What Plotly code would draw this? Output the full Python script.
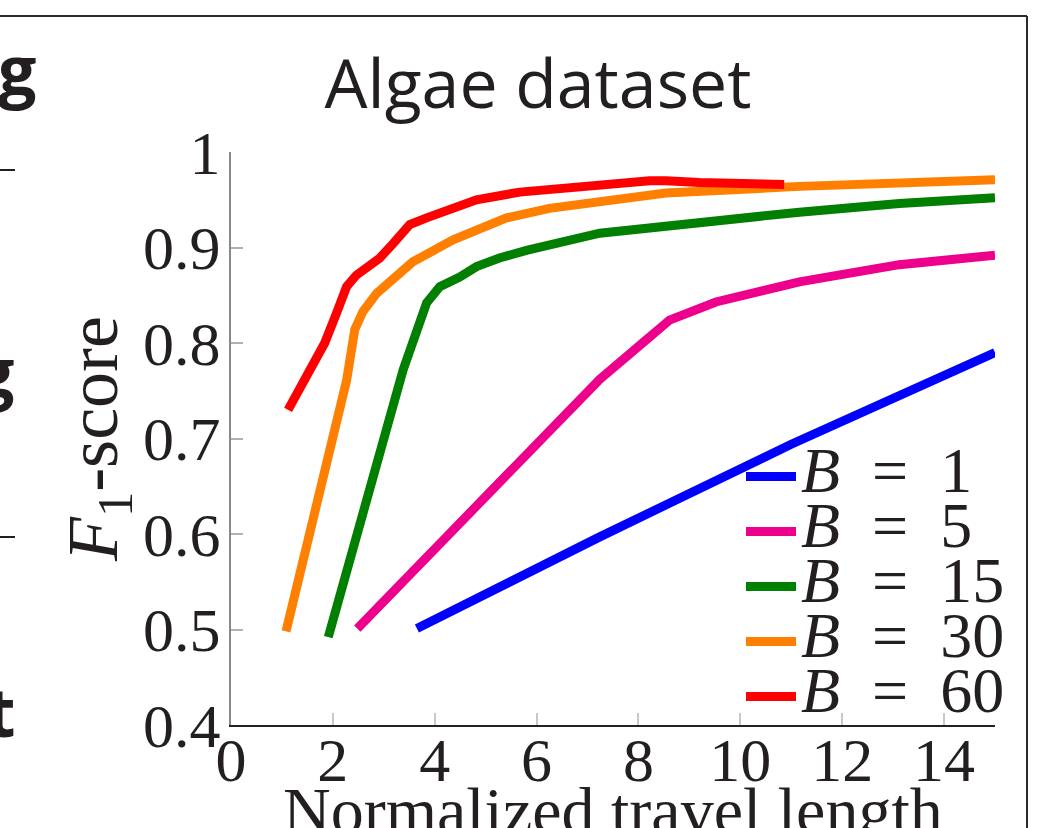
import plotly.graph_objects as go

# ---------------- data ----------------
b1_x = [3.65, 7.24, 11.0, 15.0]
b1_y = [0.501, 0.597, 0.694, 0.790]

b5_x = [2.48, 4.29, 5.86, 7.24, 8.08, 8.61, 9.52, 11.16, 13.12, 15.0]
b5_y = [0.501, 0.599, 0.687, 0.762, 0.800, 0.824, 0.843, 0.864, 0.882, 0.892]

b15_x = [1.91, 2.95, 3.38, 3.84, 4.10, 4.49, 4.82, 5.27, 5.80, 7.24, 9.20, 11.16, 13.12, 15.0]
b15_y = [0.492, 0.688, 0.772, 0.842, 0.859, 0.869, 0.880, 0.889, 0.897, 0.915, 0.927, 0.937, 0.946, 0.952]

b30_x = [1.08, 1.94, 2.27, 2.43, 2.59, 2.86, 3.31, 3.57, 4.36, 5.41, 6.25, 7.24, 8.54, 11.16, 13.12, 15.0]
b30_y = [0.498, 0.688, 0.761, 0.814, 0.833, 0.852, 0.873, 0.885, 0.908, 0.931, 0.941, 0.948, 0.957, 0.964, 0.967, 0.971]

b60_x = [1.12, 1.29, 1.55, 1.84, 2.07, 2.27, 2.46, 2.92, 3.18, 3.51, 3.84, 4.29, 4.82, 5.67, 6.45, 7.24, 8.22, 8.54, 9.2, 10.86]
b60_y = [0.730, 0.747, 0.772, 0.800, 0.831, 0.859, 0.871, 0.889, 0.904, 0.924, 0.931, 0.939, 0.950, 0.958, 0.962, 0.964, 0.970, 0.970, 0.968, 0.966]

series_labels = ["1", "5", "15", "30", "60"]
series_x = [b1_x, b5_x, b15_x, b30_x, b60_x]
series_y = [b1_y, b5_y, b15_y, b30_y, b60_y]
series_colors = ["#0000ff", "#ec008c", "#007f00", "#ff7f00", "#ff0000"]

x_ticks = [0, 2, 4, 6, 8, 10, 12, 14]
y_ticks = [0.4, 0.5, 0.6, 0.7, 0.8, 0.9, 1.0]
y_ticktext = ["0.4", "0.5", "0.6", "0.7", "0.8", "0.9", "1"]

# ---------------- layout helpers ----------------
W, H = 1064, 828
L, R, T, B = 231, 69, 152, 103
PW, PH = W - L - R, H - T - B


def px(x):
    return (x - L) / PW


def py(y):
    return (H - B - y) / PH


SERIF = "Liberation Serif, Times New Roman, serif"
SANS = "Open Sans, Noto Sans, sans-serif"
INK = "#231f20"

fig = go.Figure()
for lab, xs, ys, col in zip(series_labels, series_x, series_y, series_colors):
    fig.add_trace(go.Scatter(
        x=xs, y=ys, mode="lines",
        line=dict(color=col, width=9),
        name='<span style="font-size:64px"><i>B</i>\u2002=\u2002%s</span>' % lab,
    ))

fig.update_layout(
    width=W, height=H,
    margin=dict(l=L, r=R, t=T, b=B, autoexpand=False),
    paper_bgcolor="white", plot_bgcolor="white",
    font=dict(family=SERIF, color=INK, size=60),
    title=dict(text="Algae dataset", font=dict(family=SANS, size=68, color=INK),
               x=px(538), xref="paper", xanchor="center",
               y=1 - 84 / H, yref="container", yanchor="middle"),
    showlegend=True,
    legend=dict(x=px(741), xanchor="left", y=py(444), yanchor="top",
                font=dict(family=SERIF, size=40, color=INK),
                bgcolor="rgba(0,0,0,0)", itemwidth=50, tracegroupgap=0,
                traceorder="normal"),
    xaxis=dict(range=[0, 15], tickvals=x_ticks, ticks="inside", ticklen=12, tickwidth=2,
               tickcolor="#c8c8c8", showline=True, linecolor="#222", linewidth=1.5,
               showgrid=False, zeroline=False, automargin=False, ticklabelstandoff=-20,
               tickfont=dict(family=SERIF, size=62, color=INK)),
    yaxis=dict(range=[0.4, 1.0], tickvals=y_ticks, ticktext=y_ticktext, ticks="inside",
               ticklen=12, tickwidth=2, tickcolor="#b0b0b0", showline=True,
               linecolor="#888", linewidth=2, showgrid=False, zeroline=False,
               automargin=False, ticklabelstandoff=-4,
               tickfont=dict(family=SERIF, size=62, color=INK),
               title=dict(text="<i>F</i><sub>1</sub>-score",
                          font=dict(family=SERIF, size=72, color=INK), standoff=0)),
)

# x-axis title (runs past the bottom edge, as in the reference crop)
fig.add_annotation(text="Normalized travel length", xref="paper", yref="paper",
                   x=0.5, xanchor="center", y=py(772), yanchor="top",
                   showarrow=False, font=dict(family=SERIF, size=66, color=INK))

# outer frame of the figure panel (top and right edges)
frame = dict(color="#2a2a2a", width=2)
fig.add_shape(type="line", xref="paper", yref="paper", x0=px(0), x1=px(1027),
              y0=py(16), y1=py(16), line=frame)
fig.add_shape(type="line", xref="paper", yref="paper", x0=px(1027), x1=px(1027),
              y0=py(16), y1=py(840), line=frame)
# rule fragments of the neighbouring panel
for yy in (170, 537):
    fig.add_shape(type="line", xref="paper", yref="paper", x0=px(0), x1=px(15),
                  y0=py(yy), y1=py(yy), line=dict(color=INK, width=2))

# text fragments of the neighbouring panel
for txt, xr, ymid in (("g", 38, 68), ("g", 16, 370), ("t", 18, 710)):
    fig.add_annotation(text="<b>%s</b>" % txt, xref="paper", yref="paper",
                       x=px(xr), xanchor="right", y=py(ymid), yanchor="middle",
                       showarrow=False, font=dict(family=SANS, size=68, color=INK))

fig.write_html("out.html")
